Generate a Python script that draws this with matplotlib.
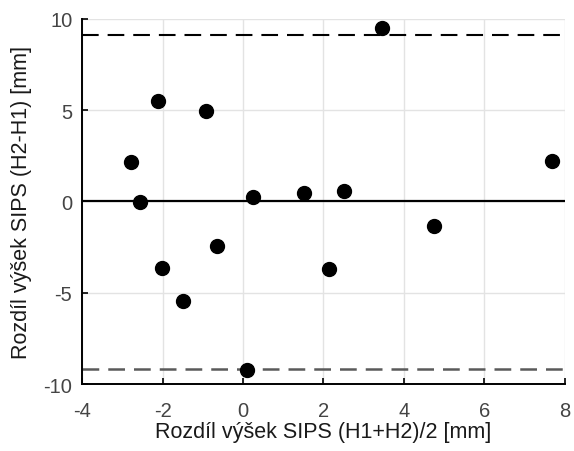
import matplotlib
matplotlib.use("Agg")
import matplotlib.pyplot as plt

plt.rcParams['font.family'] = ['Liberation Sans', 'DejaVu Sans']
plt.rcParams['axes.unicode_minus'] = False

# prumer (H1+H2)/2 a rozdil (H2-H1)
prumer = [-2.78, -2.56, -2.11, -0.92, 0.25, 1.52, 2.51, 3.45, 4.75, 7.68,
          -2.01, -1.49, -0.65, 0.10, 2.14]
rozdil = [2.14, -0.05, 5.49, 4.95, 0.22, 0.44, 0.55, 9.50, -1.32, 2.20,
          -3.63, -5.44, -2.42, -9.23, -3.68]
stredni = 0.0
horni_mez = 9.12
dolni_mez = -9.20

fig = plt.figure(figsize=(5.74, 4.52), dpi=100)
ax = fig.add_axes([0.143, 0.148, 0.841, 0.808])

ax.grid(True, color='#e3e3e3', linewidth=1.0)
ax.set_axisbelow(True)

ax.axhline(stredni, color='black', linewidth=1.6)
ax.axhline(horni_mez, color='black', linewidth=1.5, linestyle=(0, (8.0, 4.3)))
ax.axhline(dolni_mez, color='#5a5a5a', linewidth=1.8, linestyle=(0, (6.7, 3.6)))

ax.scatter(prumer, rozdil, s=100, color='black', zorder=5)

ax.set_xlim(-4, 8)
ax.set_ylim(-10, 10)
ax.set_xticks([-4, -2, 0, 2, 4, 6, 8])
ax.set_yticks([-10, -5, 0, 5, 10])

for s in ['top', 'right']:
    ax.spines[s].set_visible(False)
for s in ['left', 'bottom']:
    ax.spines[s].set_linewidth(1.4)

ax.tick_params(direction='in', length=4, width=1.2, labelsize=14.5,
               labelcolor='#444444')
ax.tick_params(axis='x', pad=12)
ax.tick_params(axis='y', pad=7)

ax.set_xlabel('Rozdíl výšek SIPS (H1+H2)/2 [mm]', fontsize=15.5,
              color='#1a1a1a', labelpad=1)
ax.set_ylabel('Rozdíl výšek SIPS (H2-H1) [mm]', fontsize=15.5,
              color='#1a1a1a', labelpad=8)

fig.savefig('out.png', dpi=100)
